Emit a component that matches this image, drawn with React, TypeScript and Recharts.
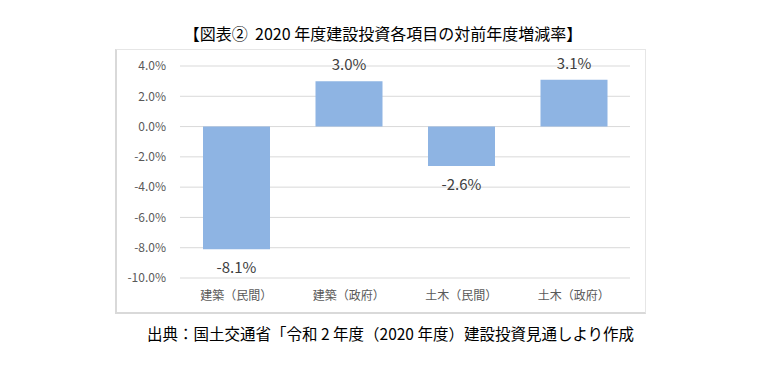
import { BarChart, Bar, XAxis, YAxis, CartesianGrid, LabelList } from "recharts";

const categories = ["建築（民間）", "建築（政府）", "土木（民間）", "土木（政府）"];
const rates = [-8.1, 3.0, -2.6, 3.1];
const yTicks = [4, 2, 0, -2, -4, -6, -8, -10];

const data = categories.map((name, i) => ({ name, rate: rates[i] }));

const FONT = "'Noto Sans CJK JP', 'Noto Sans', sans-serif";

function RateLabel(props: any) {
  const { x, y, width, height, value } = props;
  const top = Math.min(y, y + height);
  const bottom = Math.max(y, y + height);
  const ly = value < 0 ? bottom + 20 : top - 15;
  return (
    <text
      x={x + width / 2}
      y={ly}
      textAnchor="middle"
      dominantBaseline="middle"
      fontSize={15}
      fill="#404040"
      fontFamily={FONT}
    >
      {value.toFixed(1) + "%"}
    </text>
  );
}

export default function App() {
  return (
    <div
      style={{
        position: "absolute",
        left: 0,
        top: 0,
        width: 778,
        height: 368,
        background: "#fff",
        fontFamily: FONT,
      }}
    >
      <div
        style={{
          position: "absolute",
          left: 0,
          width: 766,
          top: 22,
          textAlign: "center",
          fontSize: 16,
          color: "#000",
          lineHeight: "22px",
        }}
      >
        【図表②&nbsp;&nbsp;2020 年度建設投資各項目の対前年度増減率】
      </div>
      <div
        style={{
          position: "absolute",
          left: 115,
          top: 49,
          width: 531,
          height: 265,
          borderLeft: "2px solid #d9d9d9",
          borderTop: "1px solid #e6e6e6",
          borderRight: "1px solid #e6e6e6",
          borderBottom: "2px solid #d9d9d9",
          boxSizing: "border-box",
        }}
      />
      <div style={{ position: "absolute", left: 0, top: 0 }}>
        <BarChart
          width={778}
          height={368}
          data={data}
          margin={{ top: 66, right: 148, bottom: 60, left: 110 }}
          barCategoryGap="20%"
        >
          <CartesianGrid vertical={false} stroke="#d9d9d9" />
          <XAxis
            dataKey="name"
            axisLine={false}
            tickLine={false}
            tickSize={0}
            tickMargin={13}
            height={30}
            interval={0}
            tick={{ fontSize: 12, fill: "#595959", fontFamily: FONT }}
          />
          <YAxis
            domain={[-10, 4]}
            ticks={yTicks}
            width={70}
            axisLine={false}
            tickLine={false}
            tickSize={0}
            tickMargin={14}
            tickFormatter={(v: number) => v.toFixed(1) + "%"}
            tick={{ fontSize: 12, fill: "#595959", fontFamily: FONT }}
          />
          <Bar dataKey="rate" fill="#8eb4e3" barSize={67} isAnimationActive={false}>
            <LabelList dataKey="rate" content={RateLabel} />
          </Bar>
        </BarChart>
      </div>
      <div
        style={{
          position: "absolute",
          left: 147,
          top: 322,
          fontSize: 15.5,
          color: "#000",
          lineHeight: "22px",
          whiteSpace: "nowrap",
        }}
      >
        出典：国土交通省「令和 2 年度（2020 年度）建設投資見通しより作成
      </div>
    </div>
  );
}
